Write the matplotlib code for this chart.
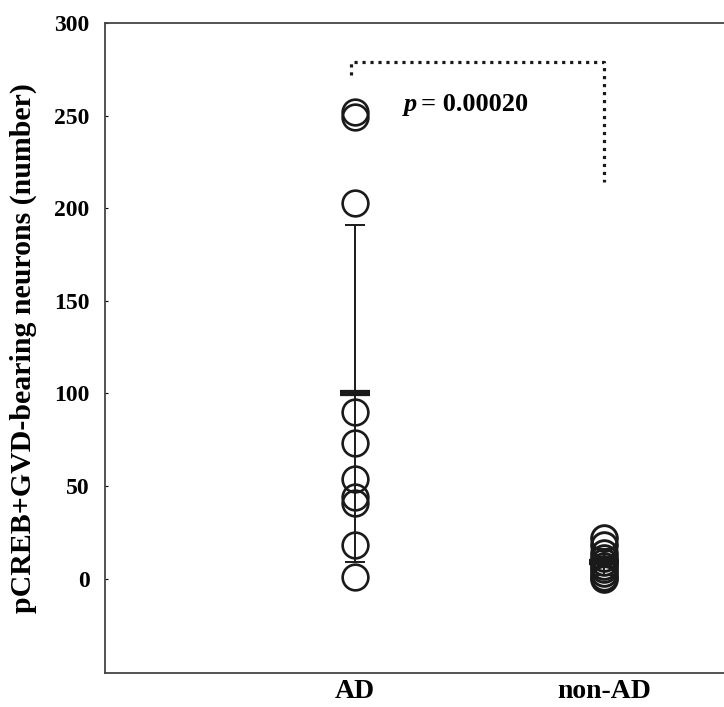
import numpy as np
import matplotlib
matplotlib.use("Agg")
import matplotlib.pyplot as plt

plt.rcParams['font.family'] = ['Liberation Serif', 'DejaVu Serif']
plt.rcParams['font.weight'] = 'bold'

groups = ['AD', 'non-AD']
ad_vals = [252, 249, 203, 90, 73, 54, 44, 41, 18, 1]
nonad_vals = [22, 18, 14, 11, 9, 7, 5, 3, 1, 0]
means = [100, 9]
sds = [91, 7]
p_text = 'p'
p_value = '= 0.00020'
yticks = [0, 50, 100, 150, 200, 250, 300]

fig = plt.figure(figsize=(7.24, 7.07), dpi=100)
ax = fig.add_axes([0.145, 0.048, 0.855, 0.9195])

xpos = [1, 2]
# error bars + mean bar
for x, m, s in zip(xpos, means, sds):
    ax.errorbar([x], [m], yerr=[s], fmt='none', ecolor='#1a1a1a',
                elinewidth=1.4, capsize=7, capthick=1.4, zorder=2)
    ax.plot([x], [m], marker='_', ms=21, mew=4.5, color='#1a1a1a', zorder=3)

ax.plot([1] * len(ad_vals), ad_vals, 'o', ms=18.5, mfc='none', mec='#1a1a1a',
        mew=1.9, zorder=4)
ax.plot([2] * len(nonad_vals), nonad_vals, 'o', ms=18.5, mfc='none', mec='#1a1a1a',
        mew=2.1, zorder=4)

# significance bracket
ax.plot([0.985, 0.985, 2.0, 2.0], [272, 279, 279, 214], color='#1a1a1a',
        lw=2.3, linestyle=(0, (1, 1.5)), solid_capstyle='butt', zorder=1)
ax.text(1.197, 256, p_text, style='italic', fontsize=19, fontweight='bold',
        va='center', ha='left')
ax.text(1.268, 256, p_value, fontsize=19, fontweight='bold',
        va='center', ha='left')

ax.set_xlim(0.0, 2.48)
ax.set_ylim(-51, 299)
ax.set_xticks(xpos)
ax.set_xticklabels(groups, fontsize=20, fontweight='bold')
ax.tick_params(axis='x', length=0, pad=4)
ax.set_yticks(yticks)
ax.set_yticklabels([str(v) for v in yticks], fontsize=17, fontweight='bold')
ax.tick_params(axis='y', direction='in', length=2, width=0.8, pad=11)
ax.spines['right'].set_visible(False)
for sp in ['left', 'top', 'bottom']:
    ax.spines[sp].set_linewidth(1.3)
    ax.spines[sp].set_color('#444444')
ax.set_ylabel('pCREB+GVD-bearing neurons (number)', fontsize=21.5,
              fontweight='bold')
ax.yaxis.set_label_coords(-0.11, 0.5)

fig.savefig('out.png', dpi=100)
